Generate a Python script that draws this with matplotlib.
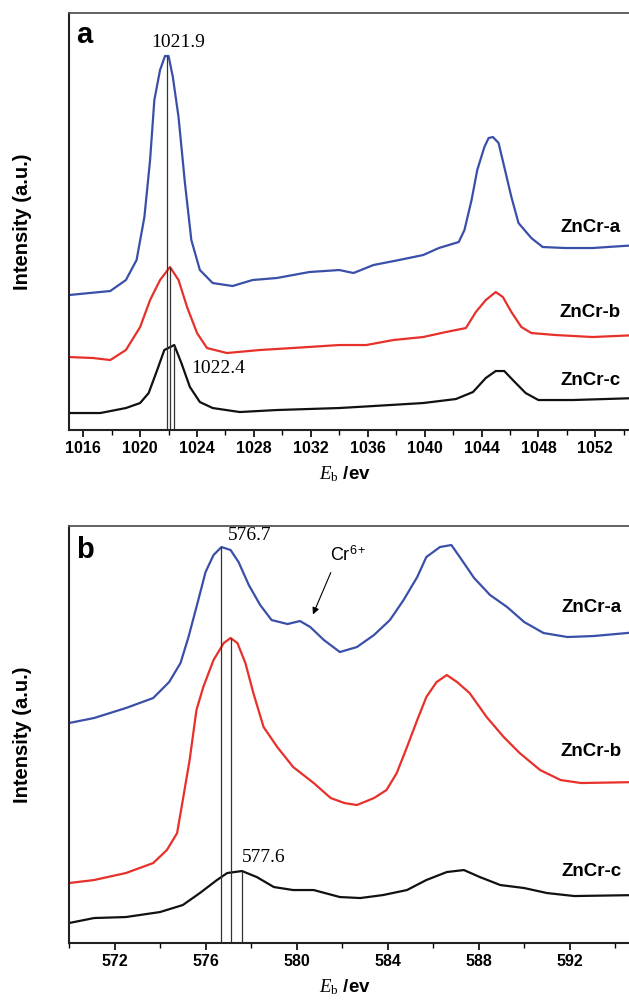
import matplotlib
matplotlib.use("Agg")
import matplotlib.pyplot as plt
from matplotlib.ticker import MultipleLocator

plt.rcParams['font.family'] = ['Liberation Sans', 'DejaVu Sans']
plt.rcParams['mathtext.fontset'] = 'custom'
plt.rcParams['mathtext.it'] = 'Liberation Serif:italic'
plt.rcParams['mathtext.rm'] = 'Liberation Serif'
plt.rcParams['mathtext.sf'] = 'Liberation Sans'

BLUE = '#3a4fa8'
RED = '#e8302a'
BLACK = '#111111'

# Zn 2p region (panel a), intensity in arbitrary units
a_blue_e = [1015.0, 1017.9, 1019.0, 1019.75, 1020.3, 1020.7, 1021.0, 1021.4, 1021.75, 1022.0,
            1022.3, 1022.7, 1023.15, 1023.6, 1024.2, 1025.1, 1026.5, 1027.9, 1029.6, 1031.9,
            1034.0, 1035.0, 1036.4, 1038.2, 1039.9, 1041.0, 1042.4, 1042.8, 1043.3, 1043.7,
            1044.2, 1044.5, 1044.8, 1045.2, 1045.6, 1046.1, 1046.6, 1047.5, 1048.3, 1049.9,
            1051.8, 1055.0]
a_blue_i = [135, 139, 150, 170, 213, 270, 330, 360, 374, 374,
            353, 313, 247, 190, 160, 147, 144, 150, 152, 158,
            160, 157, 165, 170, 175, 182, 188, 200, 230, 260,
            283, 292, 293, 287, 263, 233, 207, 192, 183, 182,
            182, 185]

a_red_e = [1015.0, 1016.7, 1017.9, 1019.0, 1020.0, 1020.7, 1021.4, 1022.1, 1022.7, 1023.3,
           1024.0, 1024.7, 1026.1, 1028.4, 1030.7, 1034.0, 1035.9, 1037.8, 1039.9, 1041.5,
           1042.9, 1043.6, 1044.3, 1045.0, 1045.5, 1046.1, 1046.8, 1047.5, 1049.2, 1051.8,
           1055.0]
a_red_i = [73, 72, 70, 80, 103, 130, 150, 163, 150, 123,
           97, 82, 77, 80, 82, 85, 85, 90, 93, 98,
           102, 118, 130, 138, 133, 118, 103, 97, 95, 93,
           95]

a_black_e = [1015.0, 1017.2, 1019.0, 1020.0, 1020.6, 1021.2, 1021.7, 1022.4, 1022.9, 1023.5,
             1024.2, 1025.1, 1027.0, 1029.6, 1034.0, 1036.4, 1039.9, 1042.2, 1043.4, 1044.3,
             1045.0, 1045.6, 1046.2, 1047.1, 1048.0, 1050.4, 1055.0]
a_black_i = [17, 17, 22, 27, 37, 60, 80, 85, 67, 43,
             28, 22, 18, 20, 22, 24, 27, 31, 38, 52,
             59, 59, 50, 37, 30, 30, 32]

a_peaks = [1021.9, 1022.1, 1022.4]
a_peak_tops = [374, 163, 85]
a_ticks = [1016, 1020, 1024, 1028, 1032, 1036, 1040, 1044, 1048, 1052]

# Cr 2p region (panel b)
b_blue_e = [570.0, 571.1, 572.5, 573.7, 574.4, 574.9, 575.25, 575.6, 576.0, 576.35,
            576.7, 577.1, 577.45, 577.9, 578.4, 578.9, 579.6, 580.15, 580.6, 581.2,
            581.9, 582.65, 583.4, 584.1, 584.7, 585.3, 585.7, 586.3, 586.8, 587.2,
            587.8, 588.5, 589.25, 590.0, 590.85, 591.9, 593.05, 595.0]
b_blue_i = [220, 225, 235, 245, 261, 280, 306, 336, 371, 388,
            396, 393, 381, 358, 338, 323, 319, 322, 316, 303,
            291, 296, 308, 323, 343, 366, 386, 396, 398, 385,
            365, 348, 336, 321, 310, 306, 307, 311]

b_red_e = [570.0, 571.1, 572.5, 573.7, 574.3, 574.75, 575.0, 575.3, 575.6, 575.9,
           576.35, 576.8, 577.1, 577.4, 577.75, 578.1, 578.55, 579.15, 579.85, 580.75,
           581.5, 582.1, 582.65, 583.4, 583.95, 584.4, 584.85, 585.3, 585.7, 586.15,
           586.6, 587.05, 587.6, 588.35, 589.1, 589.8, 590.7, 591.6, 592.5, 595.0]
b_red_i = [60, 63, 70, 80, 93, 110, 143, 183, 233, 256,
           283, 300, 305, 300, 280, 250, 216, 196, 176, 160,
           145, 140, 138, 145, 153, 170, 196, 223, 246, 261,
           268, 261, 250, 226, 206, 190, 173, 163, 160, 161]

b_black_e = [570.0, 571.1, 572.5, 574.0, 575.0, 575.75, 576.5, 576.95, 577.6, 578.25,
             579.0, 579.85, 580.75, 581.9, 582.8, 583.8, 584.85, 585.7, 586.6, 587.35,
             588.05, 588.95, 590.0, 591.0, 592.2, 595.0]
b_black_i = [20, 25, 26, 31, 38, 50, 63, 70, 72, 66,
             56, 53, 53, 46, 45, 48, 53, 63, 71, 73,
             66, 58, 55, 50, 47, 48]

b_peaks = [576.7, 577.1, 577.6]
b_peak_tops = [396, 305, 72]
b_ticks = [572, 576, 580, 584, 588, 592]

sample_names = ['ZnCr-a', 'ZnCr-b', 'ZnCr-c']


def style_axis(ax, xlim, ticks):
    ax.set_xlim(*xlim)
    ax.set_ylim(0, 417)
    ax.set_xticks(ticks)
    ax.set_xticklabels([str(t) for t in ticks], fontweight='bold', fontsize=11.5)
    ax.xaxis.set_minor_locator(MultipleLocator(2))
    ax.tick_params(axis='x', which='major', direction='out', length=5, width=1.2, pad=3)
    ax.tick_params(axis='x', which='minor', direction='out', length=3.5, width=1.0)
    ax.tick_params(axis='y', left=False, labelleft=False)
    for side in ['left', 'bottom']:
        ax.spines[side].set_linewidth(1.5)
        ax.spines[side].set_color('#222222')
    ax.spines['top'].set_linewidth(1.3)
    ax.spines['top'].set_color('#555555')
    ax.text(0.485, -0.105, r'$E_{\mathrm{b}}$ /ev', transform=ax.transAxes,
            ha='center', va='center', fontsize=13.5, fontweight='bold')


fig = plt.figure(figsize=(6.29, 10.01), dpi=100)

# ---- panel a ----
ax1 = fig.add_axes([0.1097, 0.5704, 0.9046, 0.4166])
ax1.plot(a_blue_e, a_blue_i, color=BLUE, lw=1.6)
ax1.plot(a_red_e, a_red_i, color=RED, lw=1.6)
ax1.plot(a_black_e, a_black_i, color=BLACK, lw=1.6)
ax1.vlines(a_peaks, 0, a_peak_tops, color='#333333', lw=0.9)
style_axis(ax1, (1015, 1055), a_ticks)
ax1.text(0.012, 0.947, 'a', transform=ax1.transAxes, ha='left', va='center',
         fontsize=21, fontweight='bold')
ax1.text(1022.65, 388, '1021.9', family=['Liberation Serif'], fontsize=14,
         ha='center', va='center')
ax1.text(1023.6, 62, '1022.4', family=['Liberation Serif'], fontsize=14,
         ha='left', va='center')
for name, v in zip(sample_names, [203, 118, 50]):
    ax1.text(1053.8, v, name, ha='right', va='center', fontsize=13.5, fontweight='bold')

# ---- panel b ----
ax2 = fig.add_axes([0.1097, 0.0579, 0.9046, 0.4166])
ax2.plot(b_blue_e, b_blue_i, color=BLUE, lw=1.6)
ax2.plot(b_red_e, b_red_i, color=RED, lw=1.6)
ax2.plot(b_black_e, b_black_i, color=BLACK, lw=1.6)
ax2.vlines(b_peaks, 0, b_peak_tops, color='#333333', lw=0.9)
style_axis(ax2, (570, 595), b_ticks)
ax2.text(0.012, 0.942, 'b', transform=ax2.transAxes, ha='left', va='center',
         fontsize=21, fontweight='bold')
ax2.text(577.0, 408, '576.7', family=['Liberation Serif'], fontsize=14,
         ha='left', va='center')
ax2.text(577.6, 86, '577.6', family=['Liberation Serif'], fontsize=14,
         ha='left', va='center')
ax2.annotate('', xy=(580.67, 326), xytext=(581.55, 373),
             arrowprops=dict(arrowstyle='-|>', color='black', lw=0.8, mutation_scale=10))
ax2.text(581.45, 388, r'Cr$^{\mathsf{6+}}$', ha='left', va='center', fontsize=13)
for name, v in zip(sample_names, [336, 192, 72]):
    ax2.text(594.3, v, name, ha='right', va='center', fontsize=13.5, fontweight='bold')

for ax in (ax1, ax2):
    box = ax.get_position()
    fig.text(0.035, box.y0 + box.height / 2, 'Intensity (a.u.)', rotation=90,
             ha='center', va='center', fontsize=14.5, fontweight='bold')

fig.savefig('out.png', dpi=100)
